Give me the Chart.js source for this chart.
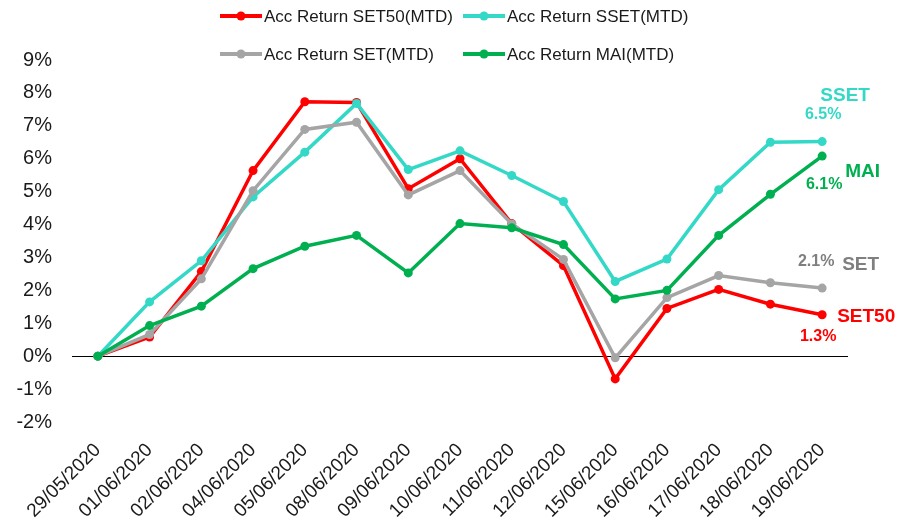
<!DOCTYPE html>
<html>
<head>
<meta charset="utf-8">
<script src="https://cdn.jsdelivr.net/npm/chart.js@4/dist/chart.umd.min.js"></script>
<style>
  body { margin: 0; background: #fff; }
  #wrap { width: 908px; height: 530px; }
</style>
</head>
<body>
<div id="wrap"><canvas id="accChart" width="908" height="530"></canvas></div>
<script>
// Dates and accumulated returns (%)
const dates = ["29/05/2020", "01/06/2020", "02/06/2020", "04/06/2020", "05/06/2020",
  "08/06/2020", "09/06/2020", "10/06/2020", "11/06/2020", "12/06/2020",
  "15/06/2020", "16/06/2020", "17/06/2020", "18/06/2020", "19/06/2020"];
const set50 = [0, 0.58, 2.57, 5.64, 7.73, 7.71, 5.09, 6.0, 4.03, 2.75, -0.69, 1.45, 2.03, 1.58, 1.26];
const sset = [0, 1.65, 2.9, 4.84, 6.2, 7.68, 5.67, 6.24, 5.49, 4.7, 2.27, 2.95, 5.06, 6.5, 6.52];
const setIdx = [0, 0.66, 2.35, 5.03, 6.89, 7.11, 4.9, 5.64, 4.02, 2.94, -0.05, 1.78, 2.45, 2.23, 2.07];
const mai = [0, 0.93, 1.52, 2.66, 3.34, 3.67, 2.53, 4.03, 3.9, 3.39, 1.74, 2.0, 3.67, 4.92, 6.08];
const seriesNames = ["Acc Return SET50(MTD)", "Acc Return SSET(MTD)", "Acc Return SET(MTD)", "Acc Return MAI(MTD)"];
const shortNames = ["SET50", "SSET", "SET", "MAI"];
const yTicks = [-2, -1, 0, 1, 2, 3, 4, 5, 6, 7, 8, 9];

const FONT = "'Liberation Sans', Arial, sans-serif";
const colors = ["#ff0000", "#33d9c6", "#a5a5a5", "#00b050"];
const labelColors = ["#ff0000", "#33d9c6", "#7f7f7f", "#00b050"];

// legend slots (two rows of two)
const legendPlugin = {
  id: "twoRowLegend",
  afterDraw(chart) {
    const ctx = chart.ctx;
    const slots = [[220, 16], [463, 16], [220, 54], [463, 54]];
    ctx.save();
    chart.data.datasets.forEach((ds, i) => {
      const [x, y] = slots[i];
      ctx.strokeStyle = ds.borderColor;
      ctx.lineWidth = 4;
      ctx.beginPath();
      ctx.moveTo(x, y);
      ctx.lineTo(x + 42, y);
      ctx.stroke();
      ctx.fillStyle = ds.borderColor;
      ctx.beginPath();
      ctx.arc(x + 21, y, 4.5, 0, Math.PI * 2);
      ctx.fill();
      ctx.fillStyle = "#1a1a1a";
      ctx.font = "17px " + FONT;
      ctx.textBaseline = "middle";
      ctx.textAlign = "left";
      ctx.fillText(ds.label, x + 44, y + 1);
    });
    ctx.restore();
  }
};

// name + last value beside the end of each line
const endLabelPlugin = {
  id: "endLabels",
  afterDatasetsDraw(chart) {
    const ctx = chart.ctx;
    // [nameDx, nameDy, nameAlign, valueDx, valueDy]
    const offs = [
      [15, 2, "left", -4, 22],
      [23, -46, "center", 1, -27],
      [20, -23, "left", -6, -26],
      [23, 16, "left", 2, 28]
    ];
    ctx.save();
    ctx.textBaseline = "middle";
    chart.data.datasets.forEach((ds, i) => {
      const pts = chart.getDatasetMeta(i).data;
      const p = pts[pts.length - 1];
      const v = ds.data[ds.data.length - 1];
      const o = offs[i];
      ctx.fillStyle = labelColors[i];
      ctx.font = "bold 19px " + FONT;
      ctx.textAlign = o[2];
      ctx.fillText(shortNames[i], p.x + o[0], p.y + o[1]);
      ctx.font = "bold 16px " + FONT;
      ctx.textAlign = "center";
      ctx.fillText(v.toFixed(1) + "%", p.x + o[3], p.y + o[4]);
    });
    ctx.restore();
  }
};

const allSeries = [set50, sset, setIdx, mai];
const datasets = allSeries.map((d, i) => ({
  label: seriesNames[i],
  data: d,
  borderColor: colors[i],
  backgroundColor: colors[i],
  pointBackgroundColor: colors[i],
  pointBorderWidth: 0,
  pointRadius: 4.5,
  borderWidth: 3.5,
  tension: 0,
  order: 4 - i
}));

new Chart(document.getElementById("accChart"), {
  type: "line",
  data: { labels: dates, datasets: datasets },
  plugins: [legendPlugin, endLabelPlugin],
  options: {
    responsive: false,
    animation: false,
    layout: { padding: { top: 60, right: 60, left: 0, bottom: 0 } },
    plugins: { legend: { display: false }, tooltip: { enabled: false } },
    scales: {
      x: {
        offset: true,
        grid: { display: false },
        border: { display: false },
        ticks: {
          color: "#1a1a1a",
          font: { family: FONT, size: 19 },
          minRotation: 45,
          maxRotation: 45,
          padding: 9,
          autoSkip: false
        },
        afterFit(scale) { scale.height = 108; }
      },
      y: {
        min: yTicks[0],
        max: yTicks[yTicks.length - 1],
        afterBuildTicks(scale) { scale.ticks = yTicks.map(v => ({ value: v })); },
        grid: {
          drawTicks: false,
          lineWidth: 1,
          color: c => (c.tick && c.tick.value === 0 ? "#000" : "rgba(0,0,0,0)")
        },
        border: { display: false },
        ticks: {
          color: "#1a1a1a",
          font: { family: FONT, size: 20 },
          padding: 20,
          callback: v => v + "%"
        },
        afterFit(scale) { scale.width = 72; }
      }
    }
  }
});
</script>
</body>
</html>
